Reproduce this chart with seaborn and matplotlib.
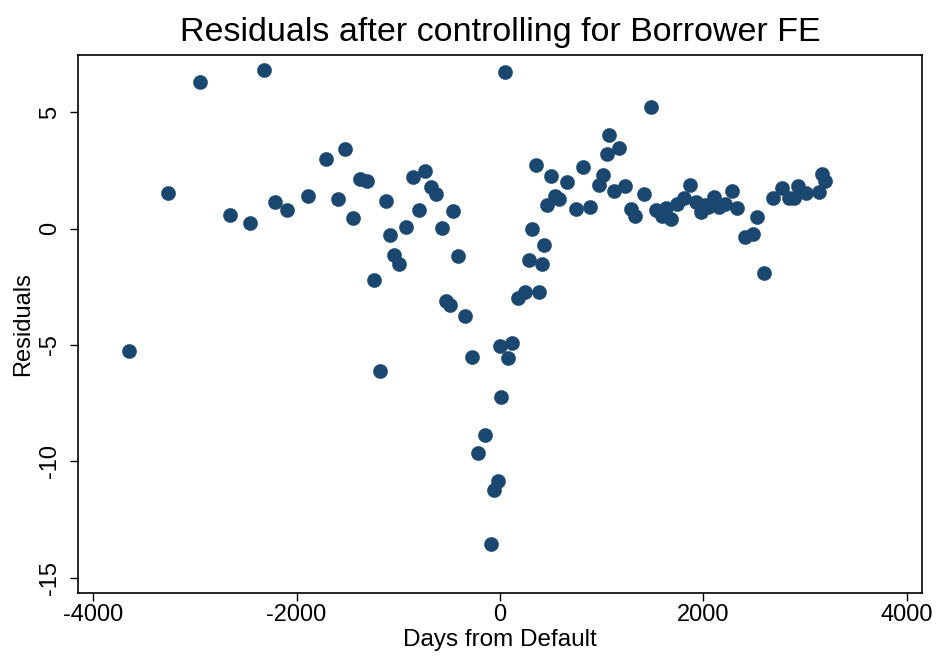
import matplotlib
matplotlib.use("Agg")
import matplotlib.pyplot as plt
import seaborn as sns
import pandas as pd

# Days relative to default and the residual left after removing borrower fixed effects
days = [
    -3646, -3268, -2950, -2317, -2651, -2454, -2208, -2091, -1886, -1714,
    -1520, -1589, -1445, -1380, -1304, -1124, -1085, -1043, -994, -1240,
    -1183, -929, -851, -740, -681, -629, -796, -458, -575, -413,
    -534, -490, -342, -278, -3, 123, 81, 14, -147, -214,
    -20, -54, -91, 53, 179, 246, 383, 289, 410, 430,
    317, 354, 499, 659, 815, 538, 580, 459, 751, 882,
    1072, 1175, 1052, 1012, 972, 1126, 1233, 1413, 1287, 1331,
    1482, 1531, 1590, 1636, 1686, 1744, 1814, 1867, 1932, 1972,
    2013, 2049, 2106, 2157, 2214, 2280, 2334, 2532, 2409, 2488,
    2595, 2686, 2777, 2839, 2888, 2935, 3013, 3139, 3170, 3196,
]
residuals = [
    -5.25, 1.52, 6.27, 6.79, 0.58, 0.25, 1.15, 0.79, 1.41, 2.98,
    3.41, 1.25, 0.45, 2.12, 2.05, 1.17, -0.29, -1.13, -1.51, -2.23,
    -6.10, 0.05, 2.20, 2.47, 1.78, 1.48, 0.78, 0.76, 0.03, -1.18,
    -3.12, -3.29, -3.76, -5.51, -5.03, -4.91, -5.55, -7.24, -8.85, -9.64,
    -10.85, -11.21, -13.55, 6.73, -2.99, -2.71, -2.71, -1.36, -1.54, -0.72,
    -0.02, 2.73, 2.27, 1.98, 2.62, 1.39, 1.25, 1.01, 0.83, 0.93,
    4.03, 3.47, 3.20, 2.29, 1.86, 1.63, 1.82, 1.49, 0.83, 0.52,
    5.20, 0.79, 0.52, 0.86, 0.39, 1.06, 1.30, 1.86, 1.15, 0.70,
    1.03, 0.91, 1.34, 0.94, 1.04, 1.60, 0.88, 0.49, -0.35, -0.23,
    -1.90, 1.30, 1.74, 1.33, 1.33, 1.84, 1.52, 1.58, 2.33, 2.05,
]
x_ticks = [-4000, -2000, 0, 2000, 4000]
y_ticks = [-15, -10, -5, 0, 5]

df = pd.DataFrame({"Days from Default": days, "Residuals": residuals})

sns.set_theme(style="ticks")
plt.rcParams["font.family"] = ["Liberation Sans", "DejaVu Sans"]
plt.rcParams["axes.unicode_minus"] = False

fig = plt.figure(figsize=(9.37, 6.57), dpi=100)
ax = fig.add_axes([0.0832, 0.0974, 0.9008, 0.8189])

sns.scatterplot(
    data=df, x="Days from Default", y="Residuals", ax=ax,
    color="#1a476f", s=105, edgecolor="#1a476f", linewidth=0.3, alpha=1.0,
)

ax.set_xlim(-4150, 4150)
ax.set_ylim(-15.65, 7.45)
ax.set_xticks(x_ticks)
ax.set_yticks(y_ticks)
ax.set_xticklabels([str(t) for t in x_ticks])
ax.set_yticklabels([str(t) for t in y_ticks], rotation=90, va="center")

for side in ["top", "right", "left", "bottom"]:
    ax.spines[side].set_visible(True)
    ax.spines[side].set_color("black")
    ax.spines[side].set_linewidth(1.2)

ax.tick_params(axis="both", which="major", length=6, width=1.0, color="black",
               labelsize=17, labelcolor="black")
ax.tick_params(axis="x", pad=2)
ax.tick_params(axis="y", pad=6)

ax.set_xlabel("Days from Default", fontsize=17.5, color="black", labelpad=2)
ax.set_ylabel("Residuals", fontsize=17, color="black", labelpad=4)
ax.set_title("Residuals after controlling for Borrower FE", fontsize=24.5,
             color="black", pad=10)

fig.savefig("out.png", dpi=100, facecolor="white")
